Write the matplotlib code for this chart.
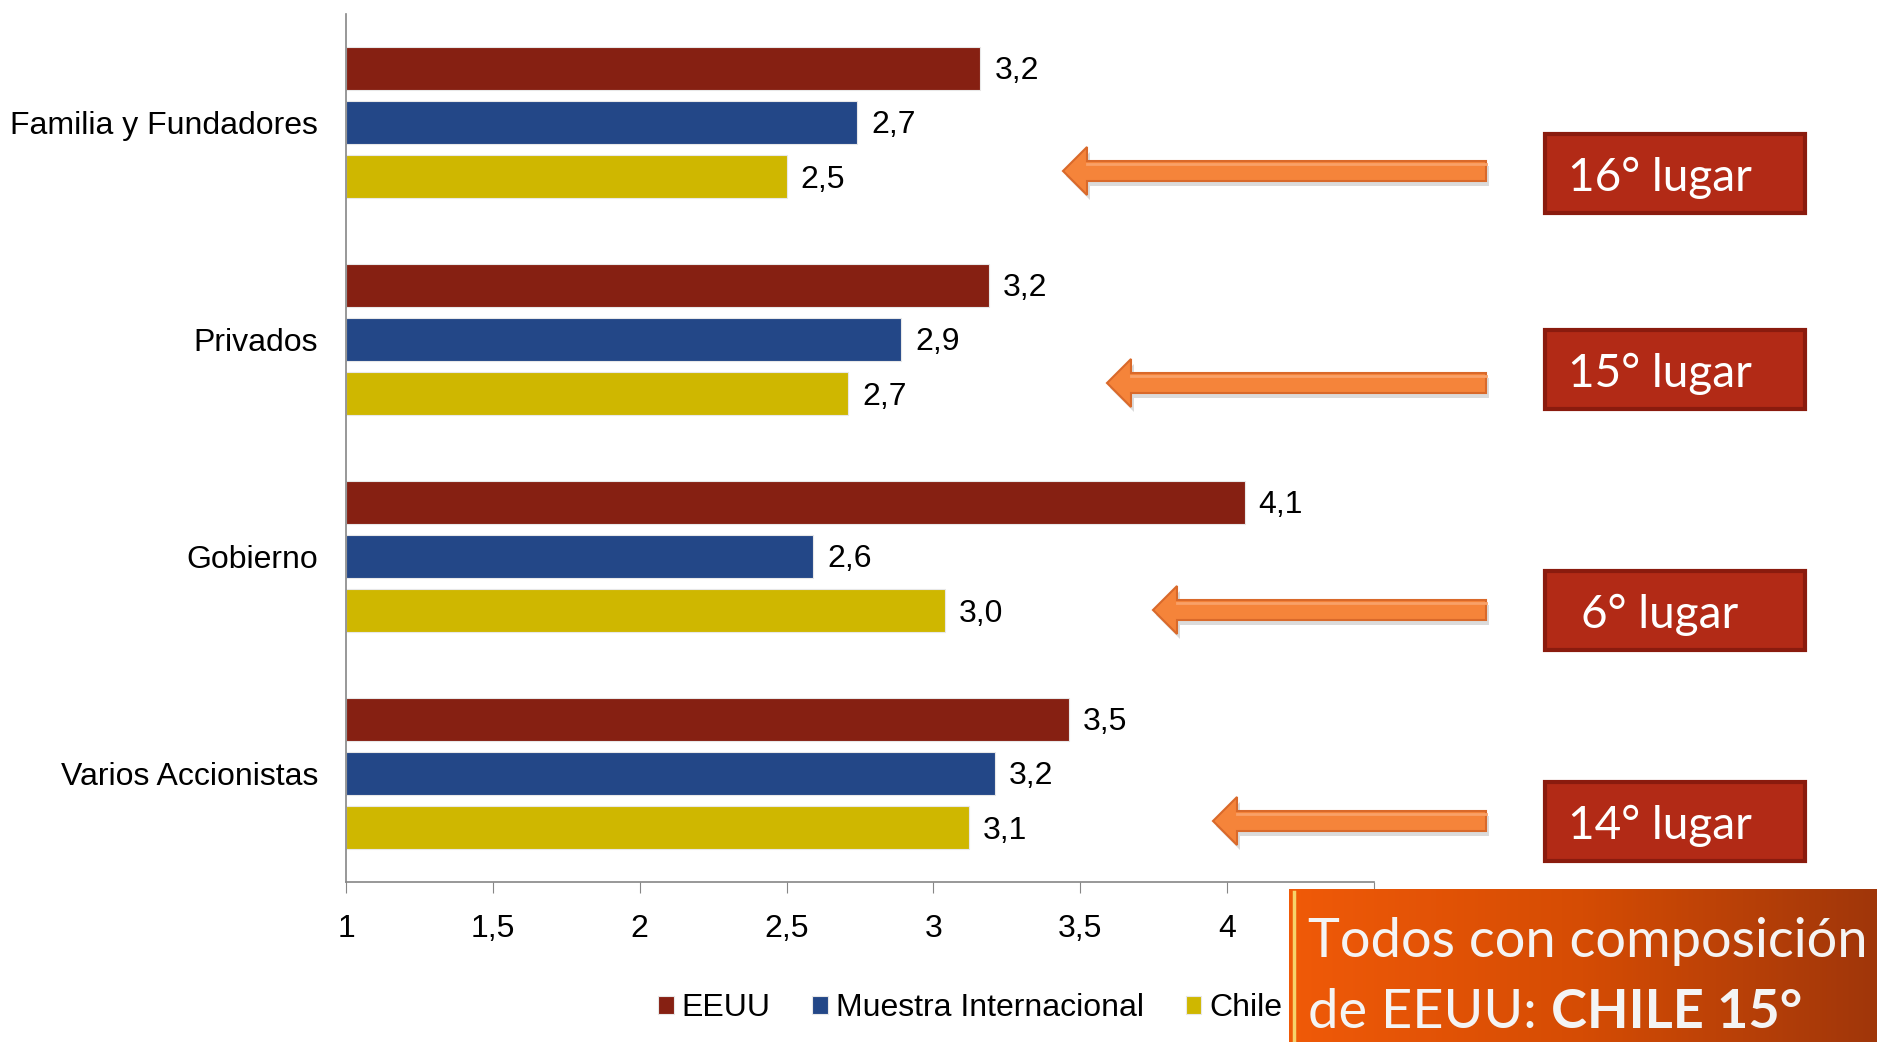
import numpy as np
import matplotlib.pyplot as plt
from matplotlib.patches import Polygon, Rectangle
from matplotlib.colors import LinearSegmentedColormap

plt.rcParams['font.family'] = ['Liberation Sans', 'DejaVu Sans']

# data
categories = ["Familia y Fundadores", "Privados", "Gobierno", "Varios Accionistas"]
eeuu = [3.16, 3.19, 4.06, 3.46]
muestra = [2.74, 2.89, 2.59, 3.21]
chile = [2.50, 2.71, 3.04, 3.12]
series_names = ["EEUU", "Muestra Internacional", "Chile"]
colors = ["#862012", "#234787", "#CFB700"]
x_ticks = [1, 1.5, 2, 2.5, 3, 3.5, 4, 4.5]
x_ticklabels = ["1", "1,5", "2", "2,5", "3", "3,5", "4", ""]
rankings = ["16° lugar", "15° lugar", "6° lugar", "14° lugar"]
note_line1 = "Todos con composición"
note_line2a = "de EEUU: "
note_line2b = "CHILE 15°"

W, H = 1877, 1042
fig = plt.figure(figsize=(W / 100, H / 100), dpi=100)
ax = fig.add_axes([346 / W, 1 - 882 / H, (1374 - 346) / W, (882 - 14) / H])

y = np.arange(len(categories))
bar_h = 0.2
offsets = [-0.25, 0, 0.25]
for vals, off, c, name in zip([eeuu, muestra, chile], offsets, colors, series_names):
    bars = ax.barh(y + off, [v - 1 for v in vals], left=1, height=bar_h, color=c,
                   edgecolor="#e8e8e8", linewidth=0.8, label=name)
    for b, v in zip(bars, vals):
        ax.annotate(f"{v:.1f}".replace(".", ","), (b.get_x() + b.get_width(), b.get_y() + bar_h / 2),
                    xytext=(10, -2), textcoords="offset points", va="center", ha="left", fontsize=23)

ax.set_xlim(1, 4.5)
ax.set_ylim(len(categories) - 0.5, -0.5)
ax.set_yticks(y)
ax.set_yticklabels(categories, fontsize=23)
ax.tick_params(axis="y", length=0, pad=20)
ax.set_xticks(x_ticks)
ax.set_xticklabels(x_ticklabels, fontsize=23)
ax.tick_params(axis="x", length=8, color="#868686", pad=15)
for s in ["top", "right"]:
    ax.spines[s].set_visible(False)
ax.spines["left"].set_color("#868686")
ax.spines["bottom"].set_color("#868686")
ax.spines["left"].set_linewidth(1.2)
ax.spines["bottom"].set_linewidth(1.2)

handles, labels = ax.get_legend_handles_labels()
fig.legend(handles, labels, loc="center", bbox_to_anchor=(970 / W, 1 - 1008 / H), ncol=3,
           frameon=False, fontsize=23, handlelength=0.5, handleheight=0.5,
           handletextpad=0.25, columnspacing=1.3)

# overlay in pixel coordinates for arrows and boxes
ov = fig.add_axes([0, 0, 1, 1], zorder=5)
ov.set_xlim(0, W)
ov.set_ylim(H, 0)
ov.axis("off")
ov.patch.set_visible(False)

arrow_tips = [1063, 1107, 1153, 1213]
arrow_ys = [171, 383, 610, 821]
box_ys = [134, 330, 571, 782]
for tip, ay, by, txt in zip(arrow_tips, arrow_ys, box_ys, rankings):
    end = 1486
    sh, hh, hl = 10, 24, 24
    pts = [(tip, ay), (tip + hl, ay - hh), (tip + hl, ay - sh), (end, ay - sh),
           (end, ay + sh), (tip + hl, ay + sh), (tip + hl, ay + hh)]
    shadow = [(px + 3, py + 5) for px, py in pts]
    ov.add_patch(Polygon(shadow, closed=True, facecolor="#9a9a9a", alpha=0.35, edgecolor="none"))
    ov.add_patch(Polygon(pts, closed=True, facecolor="#F5843A", edgecolor="#D9692A", linewidth=1.5))
    ov.plot([tip + hl, end], [ay - sh + 3, ay - sh + 3], color="#F9A168", lw=2)
    ov.add_patch(Rectangle((1545, by), 260, 79, facecolor="#B22A16", edgecolor="#8A1B0E", linewidth=3))
    ov.text(1660, by + 44, txt, color="white", fontsize=33, family=["Lato", "DejaVu Sans"],
            ha="center", va="center")

# note box with gradient
cmap = LinearSegmentedColormap.from_list("note", ["#F05A08", "#D54C04", "#A0360A"])
grad = np.linspace(0, 1, 256).reshape(1, -1)
ov.imshow(grad, cmap=cmap, extent=[1289, W, H, 889], aspect="auto", zorder=1)
ov.set_xlim(0, W)
ov.set_ylim(H, 0)
ov.plot([1294, 1294], [892, H], color="#F6D36A", lw=2.5, zorder=2)
ov.text(1308, 942, note_line1, color="#F4F4F4", fontsize=39, family=["Lato", "DejaVu Sans"],
        ha="left", va="center", zorder=3)
t = ov.text(1308, 1013, note_line2a, color="#F4F4F4", fontsize=39, family=["Lato", "DejaVu Sans"],
            ha="left", va="center", zorder=3)
ov.annotate(note_line2b, xycoords=t, xy=(1, 0.5), va="center", ha="left", color="#F4F4F4",
            fontsize=39, fontweight="bold", family=["Lato", "DejaVu Sans"], zorder=3)

fig.savefig("out.png", dpi=100)
